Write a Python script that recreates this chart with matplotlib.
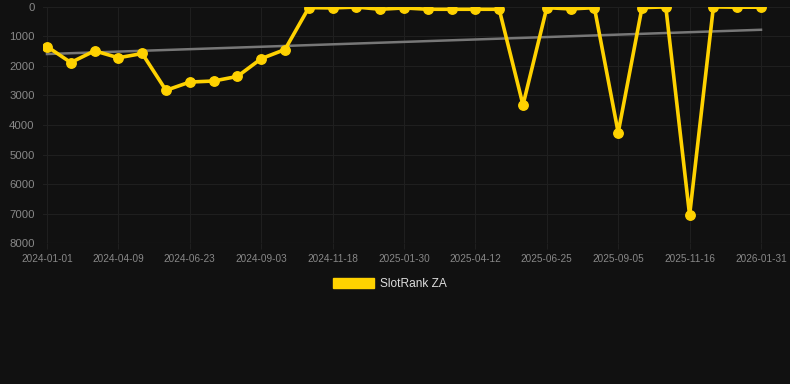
import numpy as np
import matplotlib
matplotlib.use("Agg")
import matplotlib.pyplot as plt
from matplotlib.patches import Patch

plt.rcParams['font.family'] = ['Liberation Sans', 'DejaVu Sans']

# data
tick_labels = ["2024-01-01", "2024-04-09", "2024-06-23", "2024-09-03", "2024-11-18",
               "2025-01-30", "2025-04-12", "2025-06-25", "2025-09-05", "2025-11-16",
               "2026-01-31"]
rank_values = [1350, 1890, 1495, 1730, 1585, 2830, 2550, 2515, 2360, 1760, 1450,
               35, 45, 15, 90, 45, 90, 90, 90, 90, 3325,
               35, 80, 35, 4260, 35, 10, 7050, 10, 20, 20]
series_name = "SlotRank ZA"

BG = "#111111"
GRID = "#1f1f1f"
YELLOW = "#ffd200"

W, H = 790, 384
fig = plt.figure(figsize=(W / 100, H / 100), dpi=100, facecolor=BG)
left, right = 43, 790
top, bottom = 6.6, 243.3
ax = fig.add_axes([left / W, 1 - bottom / H, (right - left) / W, (bottom - top) / H])
ax.set_facecolor(BG)

x = np.arange(len(rank_values))
y = np.array(rank_values, dtype=float)

# trend (linear regression)
coef = np.polyfit(x, y, 1)
ax.plot(x, np.polyval(coef, x), color="#777777", lw=1.8, zorder=2)

ax.plot(x, y, color=YELLOW, lw=2.6, marker='o', markersize=6.8,
        markeredgewidth=1.0,
        markerfacecolor=YELLOW, markeredgecolor=YELLOW, zorder=3,
        solid_joinstyle='miter')

# x scale: first point at 47px, last at 761px
px_per = (761 - 47) / (len(rank_values) - 1)
ax.set_xlim(-(47 - left) / px_per, (len(rank_values) - 1) + (right - 761) / px_per)
ax.set_ylim(8000, 0)

ax.set_yticks(np.arange(0, 8001, 1000))
ax.set_yticklabels([str(v) for v in range(0, 8001, 1000)])
ax.set_xticks(x[::3])
ax.set_xticklabels(tick_labels)

ax.grid(True, color=GRID, lw=0.8)
ax.set_axisbelow(True)
for s in ax.spines.values():
    s.set_visible(False)
ax.axhline(8000, color="#282828", lw=0.8, zorder=1)

ax.tick_params(axis='y', length=0, pad=6, labelsize=8.2, labelcolor="#888888")
ax.tick_params(axis='x', length=4, width=0.8, color=GRID, pad=4,
               labelsize=7.2, labelcolor="#888888")

handle = Patch(facecolor=YELLOW, edgecolor=YELLOW)
fig.legend([handle], [series_name], loc='center',
           bbox_to_anchor=(390 / W, 1 - 284 / H), frameon=False,
           fontsize=8.6, labelcolor="#dddddd", handlelength=3.4,
           handleheight=1.0, handletextpad=0.5)

fig.savefig("out.png", dpi=100, facecolor=BG)
